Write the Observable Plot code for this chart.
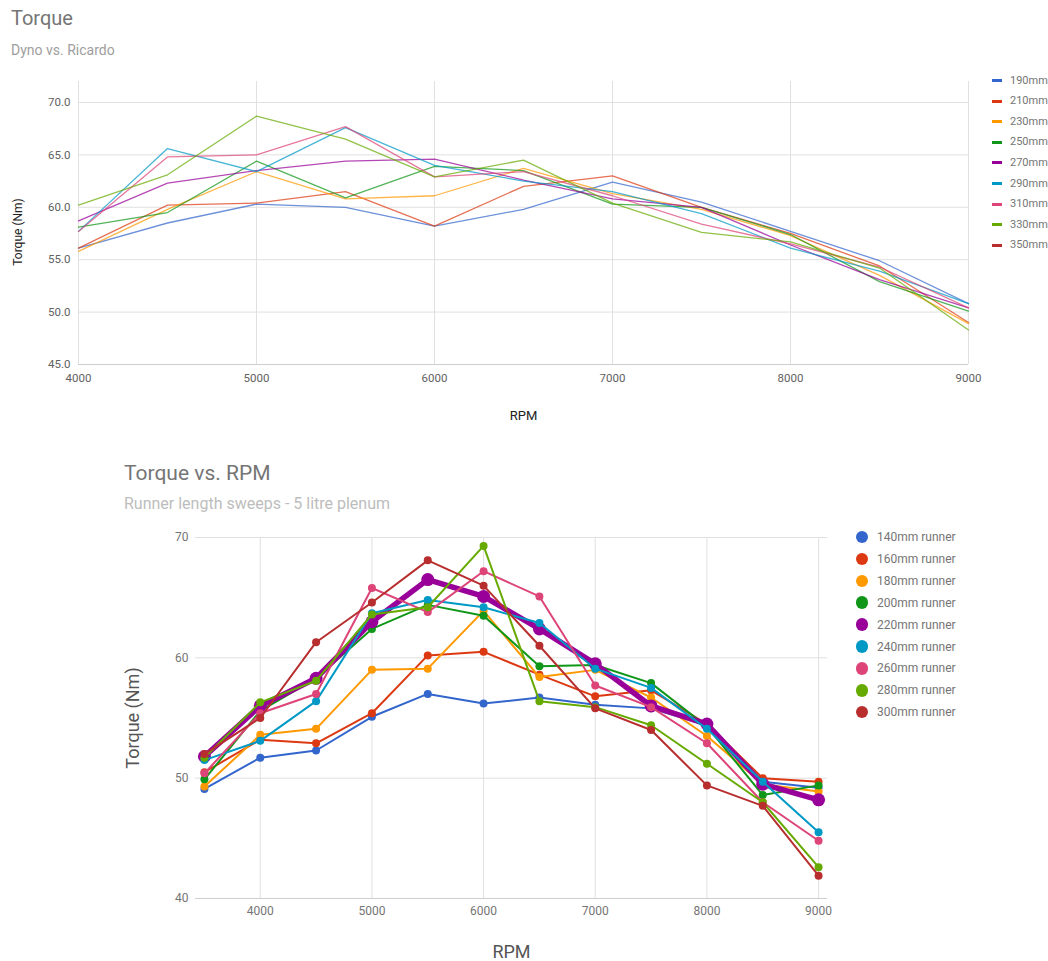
<!DOCTYPE html>
<html>
<head>
<meta charset="utf-8">
<script src="https://cdn.jsdelivr.net/npm/d3@7"></script>
<script src="https://cdn.jsdelivr.net/npm/@observablehq/plot@0.6"></script>
<style>
  body { margin: 0; background: #fff; font-family: Roboto, "Noto Sans", sans-serif; }
  #wrap { position: relative; width: 1048px; height: 961px; overflow: hidden; background: #fff; }
  .abs { position: absolute; white-space: nowrap; }
  .abs svg { display: block; }
</style>
</head>
<body>
<div id="wrap"></div>
<script>
// ---------- shared palette ----------
const palette = ["#3366cc", "#dc3912", "#ff9900", "#109618", "#990099", "#0099c6", "#dd4477", "#66aa00", "#b82e2e"];

// ---------- chart 1: Torque — Dyno vs. Ricardo ----------
const titleTop = "Torque";
const subtitleTop = "Dyno vs. Ricardo";
const seriesTop = ["190mm", "210mm", "230mm", "250mm", "270mm", "290mm", "310mm", "330mm", "350mm"];
const rpmTop = [4000, 4500, 5000, 5500, 6000, 6500, 7000, 7500, 8000, 8500, 9000];
const xTicksTop = [4000, 5000, 6000, 7000, 8000, 9000];
const yTicksTop = [45, 50, 55, 60, 65, 70];
const top190 = [56.1, 58.5, 60.3, 60.0, 58.2, 59.8, 62.4, 60.5, 57.7, 54.9, 50.8];
const top210 = [56.1, 60.2, 60.4, 61.5, 58.2, 62.0, 63.0, 60.0, 57.5, 54.4, 49.0];
const top230 = [55.8, 59.8, 63.4, 60.8, 61.1, 63.7, 61.3, 59.8, 57.3, 53.5, 48.9];
const top250 = [58.1, 59.5, 64.4, 60.9, 63.9, 63.5, 60.3, 60.0, 57.4, 52.9, 50.1];
const top270 = [58.7, 62.3, 63.5, 64.4, 64.6, 62.6, 60.8, 60.0, 56.4, 53.1, 50.4];
const top290 = [57.7, 65.6, 63.4, 67.6, 64.0, 62.5, 61.5, 59.4, 56.1, 53.9, 50.8];
const top310 = [57.7, 64.8, 65.0, 67.7, 62.9, 63.4, 61.1, 58.4, 56.5, 54.3, 50.4];
const top330 = [60.2, 63.1, 68.7, 66.5, 62.9, 64.5, 60.4, 57.6, 56.7, 54.2, 48.3];
const top350 = []; // listed in legend, no line drawn
const valuesTop = [top190, top210, top230, top250, top270, top290, top310, top330, top350];

// ---------- chart 2: Torque vs. RPM ----------
const titleBottom = "Torque vs. RPM";
const subtitleBottom = "Runner length sweeps - 5 litre plenum";
const seriesBottom = ["140mm runner", "160mm runner", "180mm runner", "200mm runner", "220mm runner",
                      "240mm runner", "260mm runner", "280mm runner", "300mm runner"];
const highlighted = "220mm runner";
const rpmBottom = [3500, 4000, 4500, 5000, 5500, 6000, 6500, 7000, 7500, 8000, 8500, 9000];
const xTicksBottom = [4000, 5000, 6000, 7000, 8000, 9000];
const yTicksBottom = [40, 50, 60, 70];
const r140 = [49.1, 51.7, 52.3, 55.1, 57.0, 56.2, 56.7, 56.1, 55.8, 54.4, 49.7, 49.2];
const r160 = [50.5, 53.2, 52.9, 55.4, 60.2, 60.5, 58.6, 56.8, 57.3, 54.5, 50.0, 49.7];
const r180 = [49.3, 53.6, 54.1, 59.0, 59.1, 63.9, 58.4, 59.0, 56.7, 53.5, 49.5, 48.9];
const r200 = [49.9, 55.6, 58.3, 62.4, 64.4, 63.5, 59.3, 59.4, 57.9, 54.3, 48.6, 49.4];
const r220 = [51.8, 56.0, 58.3, 63.0, 66.5, 65.1, 62.4, 59.5, 56.0, 54.5, 49.5, 48.2];
const r240 = [51.5, 53.1, 56.4, 63.7, 64.8, 64.2, 62.9, 59.1, 57.5, 54.1, 49.7, 45.5];
const r260 = [50.4, 55.4, 57.0, 65.8, 63.8, 67.2, 65.1, 57.7, 55.9, 52.9, 48.0, 44.8];
const r280 = [51.7, 56.3, 58.1, 63.6, 64.2, 69.3, 56.4, 55.9, 54.4, 51.2, 48.0, 42.6];
const r300 = [52.0, 55.0, 61.3, 64.6, 68.1, 66.0, 61.0, 55.8, 54.0, 49.4, 47.7, 41.9];
const valuesBottom = [r140, r160, r180, r200, r220, r240, r260, r280, r300];

// ---------- helpers ----------
const wrap = document.getElementById("wrap");
function place(el, left, top) {
  const d = document.createElement("div");
  d.className = "abs";
  d.style.left = left + "px";
  d.style.top = top + "px";
  d.appendChild(el);
  wrap.appendChild(d);
  return d;
}
function textDiv(txt, left, top, size, color) {
  const s = document.createElement("span");
  s.textContent = txt;
  s.style.fontSize = size + "px";
  s.style.lineHeight = size + "px";
  s.style.color = color;
  s.style.display = "block";
  return place(s, left, top);
}
function nudge(svg, ariaLabel, dx, dy) {
  svg.querySelectorAll(`g[aria-label="${ariaLabel}"]`).forEach(g => {
    g.setAttribute("transform", `translate(${dx},${dy}) ` + (g.getAttribute("transform") || ""));
  });
}

const dataTop = seriesTop.flatMap((s, i) => valuesTop[i].map((v, j) => ({series: s, rpm: rpmTop[j], torque: v})));

// ---------- top titles ----------
textDiv(titleTop, 11, 8, 20, "#757575");
textDiv(subtitleTop, 11, 43, 14, "#9e9e9e");

const plotTop = Plot.plot({
  width: 1048,
  height: 360,
  marginLeft: 78,
  marginRight: 80,
  marginTop: 11,
  marginBottom: 66,
  style: {fontFamily: "Roboto, sans-serif", fontSize: "11.5px", color: "#616161", background: "transparent", overflow: "visible"},
  x: {domain: [4000, 9000]},
  y: {domain: [45, 72]},
  color: {domain: seriesTop, range: palette},
  marks: [
    Plot.ruleY(yTicksTop.filter(d => d !== 45), {stroke: "#e0e0e0"}),
    Plot.ruleX(xTicksTop, {stroke: "#e0e0e0"}),
    Plot.ruleY([45], {stroke: "#cfcfcf"}),
    Plot.axisX(xTicksTop, {tickSize: 0, tickPadding: 9, tickFormat: d => String(d), label: null, fill: "#616161"}),
    Plot.axisX([], {label: "RPM", labelArrow: "none", labelAnchor: "center", labelOffset: 55, fill: "#222", fontSize: 13}),
    Plot.axisY(yTicksTop, {tickSize: 0, tickPadding: 8, tickFormat: d => d.toFixed(1), label: null, fill: "#616161"}),
    Plot.axisY([], {label: "Torque (Nm)", labelArrow: "none", labelAnchor: "center", labelOffset: 65, fill: "#222", fontSize: 12}),
    Plot.line(dataTop, {x: "rpm", y: "torque", z: "series", stroke: "series", strokeWidth: 1.3, strokeOpacity: 0.72})
  ]
});
nudge(plotTop, "y-axis label", 0, 9);
place(plotTop, 0, 70);

// top legend
seriesTop.forEach((s, i) => {
  const cy = 80.5 + i * 20.6;
  const sw = document.createElement("div");
  sw.style.width = "10px";
  sw.style.height = "3px";
  sw.style.background = palette[i];
  place(sw, 992, cy - 1.5);
  textDiv(s, 1010, cy - 7, 11, "#757575").firstChild.style.lineHeight = "14px";
});

// ---------- bottom titles ----------
textDiv(titleBottom, 124, 463, 21, "#757575");
textDiv(subtitleBottom, 124, 496, 16, "#bdbdbd");

const marksBottom = [
  Plot.ruleY(yTicksBottom.filter(d => d !== 40), {stroke: "#e0e0e0"}),
  Plot.ruleX(xTicksBottom, {stroke: "#e0e0e0"}),
  Plot.ruleY([40], {stroke: "#cfcfcf"}),
  Plot.axisX(xTicksBottom, {tickSize: 0, tickPadding: 8, tickFormat: d => String(d), label: null, fill: "#757575"}),
  Plot.axisX([], {label: "RPM", labelArrow: "none", labelAnchor: "center", labelOffset: 59, fill: "#555", fontSize: 18}),
  Plot.axisY(yTicksBottom, {tickSize: 0, tickPadding: 7, tickFormat: d => String(d), label: null, fill: "#757575"}),
  Plot.axisY([], {label: "Torque (Nm)", labelArrow: "none", labelAnchor: "center", labelOffset: 69, fill: "#555", fontSize: 18})
];
seriesBottom.forEach((s, i) => {
  const rows = valuesBottom[i].map((v, j) => ({series: s, rpm: rpmBottom[j], torque: v}));
  const hi = s === highlighted;
  marksBottom.push(Plot.line(rows, {x: "rpm", y: "torque", stroke: palette[i], strokeWidth: hi ? 5.5 : 2}));
  marksBottom.push(Plot.dot(rows, {x: "rpm", y: "torque", fill: palette[i], r: hi ? 6.5 : 4}));
});

const plotBottom = Plot.plot({
  width: 1048,
  height: 436,
  marginLeft: 195,
  marginRight: 221,
  marginTop: 12,
  marginBottom: 63,
  style: {fontFamily: "Roboto, sans-serif", fontSize: "12px", color: "#757575", background: "transparent", overflow: "visible"},
  x: {domain: [3420, 9080]},
  y: {domain: [40, 70]},
  marks: marksBottom
});
place(plotBottom, 0, 525);

// bottom legend
seriesBottom.forEach((s, i) => {
  const cy = 537 + i * 21.9;
  const c = document.createElement("div");
  c.style.width = "12.6px";
  c.style.height = "12.6px";
  c.style.borderRadius = "50%";
  c.style.background = palette[i];
  place(c, 862 - 6.3, cy - 6.3);
  textDiv(s, 877, cy - 8, 12, "#757575").firstChild.style.lineHeight = "16px";
});
</script>
</body>
</html>
